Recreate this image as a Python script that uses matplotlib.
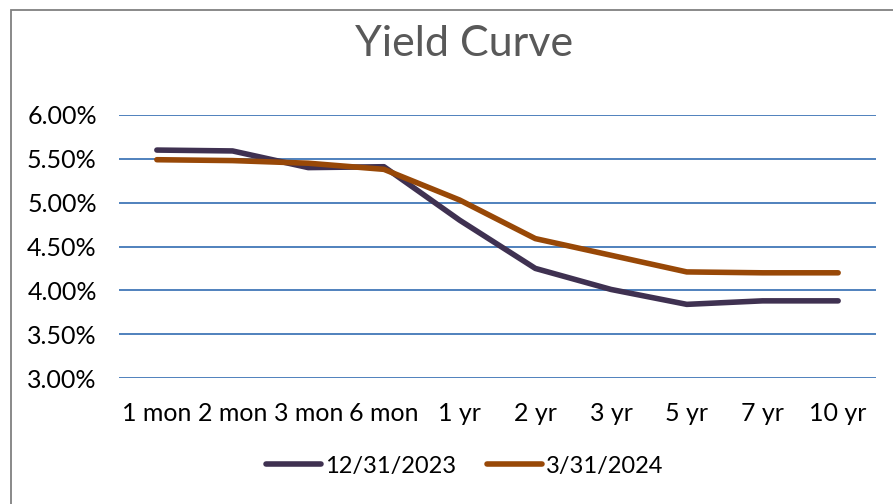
import matplotlib.pyplot as plt
from matplotlib.patches import Rectangle

# yield curve data
maturities = ['1 mon', '2 mon', '3 mon', '6 mon', '1 yr', '2 yr', '3 yr', '5 yr', '7 yr', '10 yr']
yields_2023 = [5.60, 5.59, 5.40, 5.41, 4.80, 4.25, 4.01, 3.84, 3.88, 3.88]
yields_2024 = [5.49, 5.48, 5.45, 5.38, 5.03, 4.59, 4.40, 4.21, 4.20, 4.20]
series_labels = ['12/31/2023', '3/31/2024']
yticks = [3.0, 3.5, 4.0, 4.5, 5.0, 5.5, 6.0]

plt.rcParams['font.family'] = ['Lato', 'DejaVu Sans']

W, H = 893, 504
fig = plt.figure(figsize=(W / 100, H / 100), dpi=100)
fig.patch.set_facecolor('white')

# chart area border (clipped at right / bottom like the screenshot)
fig.patches.append(Rectangle((11 / W, -0.05), 1.2, 1 - 10 / H + 0.05,
                             transform=fig.transFigure, fill=False,
                             edgecolor='#808080', linewidth=1.3))

ax = fig.add_axes([119 / W, 1 - 378 / H, (876 - 119) / W, (378 - 115) / H])
x = list(range(len(maturities)))
ax.plot(x, yields_2023, color='#3F3151', linewidth=4.0, solid_capstyle='round',
        solid_joinstyle='round', label=series_labels[0], zorder=3)
ax.plot(x, yields_2024, color='#984807', linewidth=4.0, solid_capstyle='round',
        solid_joinstyle='round', label=series_labels[1], zorder=3)

ax.set_xlim(-0.5, len(maturities) - 0.5)
ax.set_ylim(3.0, 6.0)
ax.set_yticks(yticks)
ax.set_yticklabels(['%.2f%%' % v for v in yticks])
ax.set_xticks(x)
ax.set_xticklabels(maturities)
ax.grid(axis='y', color='#4F81BD', linewidth=1.4)
ax.set_axisbelow(True)
for s in ax.spines.values():
    s.set_visible(False)
ax.tick_params(length=0, labelsize=18, colors='black')
ax.tick_params(axis='y', pad=16)
ax.tick_params(axis='x', pad=17)

fig.text(464 / W, 1 - 44 / H, 'Yield Curve', ha='center', va='center',
         fontsize=31, color='#595959')

fig.legend(loc='center', bbox_to_anchor=(465 / W, 1 - 466 / H), ncol=2,
           frameon=False, fontsize=17, handlelength=2.3, handletextpad=0.2,
           columnspacing=1.3)

fig.savefig('out.png', dpi=100, facecolor='white')
